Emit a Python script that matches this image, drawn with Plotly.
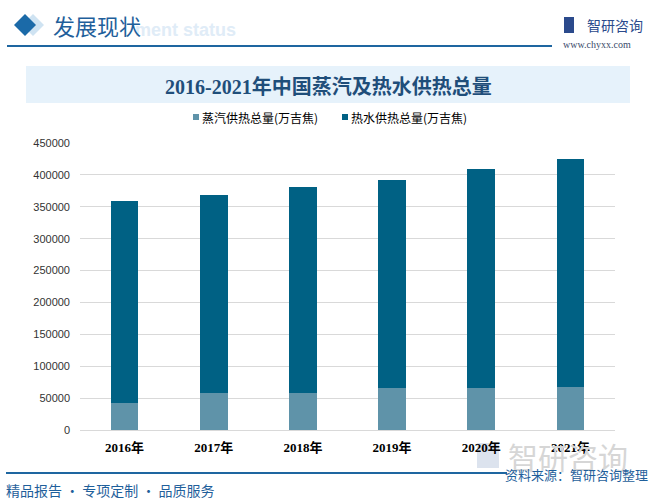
import plotly.graph_objects as go

years = ["2016年", "2017年", "2018年", "2019年", "2020年", "2021年"]
steam = [41600, 57300, 57500, 65200, 65300, 66800]
hot_water = [317400, 311100, 323500, 326800, 343900, 358200]
y_ticks = [0, 50000, 100000, 150000, 200000, 250000, 300000, 350000, 400000, 450000]
series_names = ["蒸汽供热总量(万吉焦)", "热水供热总量(万吉焦)"]
series_colors = ["#5F93A9", "#006184"]

W, H = 654, 502
L, R, T, B = 80, 615, 143, 430

def px(x):
    return (x - L) / (R - L)

def py(y):
    return (B - y) / (B - T)

fig = go.Figure()
fig.add_trace(go.Bar(x=years, y=steam, name=series_names[0],
                     marker=dict(color=series_colors[0], line=dict(width=0)), width=0.31))
fig.add_trace(go.Bar(x=years, y=hot_water, name=series_names[1],
                     marker=dict(color=series_colors[1], line=dict(width=0)), width=0.31))

shapes = [
    dict(type="path", xref="paper", yref="paper",
         path=f"M {px(22)} {py(25)} L {px(33)} {py(14)} L {px(44)} {py(25)} L {px(33)} {py(36)} Z",
         fillcolor="#cfe3f2", line=dict(width=0), layer="below"),
    dict(type="path", xref="paper", yref="paper",
         path=f"M {px(14)} {py(25)} L {px(25)} {py(14)} L {px(36)} {py(25)} L {px(25)} {py(36)} Z",
         fillcolor="#1B6AA8", line=dict(width=0)),
    dict(type="line", xref="paper", yref="paper", x0=px(7), x1=px(552), y0=py(46), y1=py(46),
         line=dict(color="#1E66A0", width=2)),
    dict(type="rect", xref="paper", yref="paper", x0=px(26), x1=px(630), y0=py(66), y1=py(103),
         fillcolor="#E6F2FB", line=dict(width=0), layer="below"),
    dict(type="line", xref="paper", yref="paper", x0=px(6), x1=px(507), y0=py(473), y1=py(473),
         line=dict(color="#1E66A0", width=2)),
    dict(type="rect", xref="paper", yref="paper", x0=px(564), x1=px(574), y0=py(17), y1=py(33),
         fillcolor="#2B4A8C", line=dict(width=0)),
    dict(type="rect", xref="paper", yref="paper", x0=px(477), x1=px(499), y0=py(443), y1=py(468),
         fillcolor="#DCE3EE", line=dict(width=0), layer="below"),
]

ann = []
def add_text(text, x, y, size, color, family="Noto Sans CJK SC", xanchor="left", bold=False):
    ann.append(dict(text=f"<b>{text}</b>" if bold else text, x=px(x), y=py(y), xref="paper", yref="paper",
                    showarrow=False, xanchor=xanchor, yanchor="middle",
                    font=dict(size=size, color=color, family=family)))

add_text("ment status", 238, 30, 18, "#E0ECF7", family="Liberation Sans", xanchor="right", bold=True)
add_text("发展现状", 51, 25, 22, "#1F5F9B")
add_text("智研咨询", 585, 25, 14, "#2B4A8C")
add_text("www.chyxx.com", 561, 45, 10, "#3A4A6A", family="Liberation Serif")
add_text("2016-2021年中国蒸汽及热水供热总量", 328, 87, 20, "#1F4E7A",
         family="Liberation Serif, Noto Sans CJK SC", xanchor="center", bold=True)
add_text("智研咨询", 506, 456, 30, "#D6D6D6")
add_text("资料来源：智研咨询整理", 650, 474, 13, "#1F5F9B", xanchor="right")
add_text("精品报告 · 专项定制 · 品质服务", 4, 490, 14, "#1F5F9B")

for sx, name, col in zip([193, 342], series_names, series_colors):
    shapes.append(dict(type="rect", xref="paper", yref="paper", x0=px(sx), x1=px(sx + 6),
                       y0=py(120), y1=py(114), fillcolor=col, line=dict(width=0)))
    add_text(name, sx + 7, 117, 12, "#000000")

fig.update_layout(
    width=W, height=H,
    margin=dict(l=L, r=W - R, t=T, b=H - B, pad=0),
    paper_bgcolor="white", plot_bgcolor="white",
    barmode="stack", bargap=0.69,
    font=dict(family="Noto Sans CJK SC", size=12, color="#000000"),
    showlegend=False,
    shapes=shapes, annotations=ann,
    xaxis=dict(showgrid=False, showline=True, linecolor="#D9D9D9", linewidth=1, ticks="",
               tickfont=dict(size=13, color="#000000", family="Liberation Serif, Noto Sans CJK SC", weight="bold"),
               ticklabelstandoff=5),
    yaxis=dict(range=[0, 450000], tickvals=y_ticks, ticktext=[str(v) for v in y_ticks],
               showgrid=True, gridcolor="#D9D9D9", gridwidth=1, zeroline=False, showline=False,
               tickfont=dict(size=11, color="#333333", family="Liberation Sans"),
               ticks="", ticklabelstandoff=9),
)

fig.write_html("out.html", config={"displayModeBar": False},
               post_script="document.body.style.margin='0';document.body.style.overflow='hidden';")
